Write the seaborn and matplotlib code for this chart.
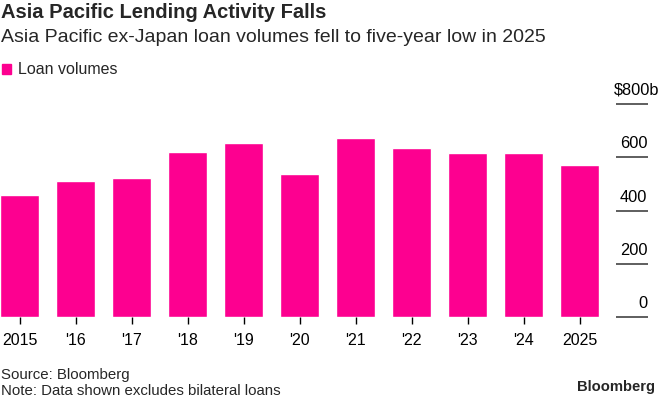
import matplotlib
matplotlib.use("Agg")
import matplotlib.pyplot as plt
import matplotlib.transforms as mtransforms
from matplotlib.patches import Patch
import pandas as pd
import seaborn as sns

# data
years = ["2015", "'16", "'17", "'18", "'19", "'20", "'21", "'22", "'23", "'24", "2025"]
loan_volumes = [458, 511, 521, 619, 652, 537, 673, 635, 618, 616, 571]
y_ticks = [0, 200, 400, 600, 800]
y_tick_labels = ["0", "200", "400", "600", "$800b"]

MAGENTA = "#fd0090"
W, H = 660, 401

sns.set_theme(style="white")
plt.rcParams["font.family"] = ["Liberation Sans", "DejaVu Sans"]

df = pd.DataFrame({"year": years, "volume": loan_volumes})

fig = plt.figure(figsize=(W / 100, H / 100), dpi=100)
# axes placed in pixel terms: bars span x 0..599, baseline at y=317, 800 at y=104
ax = fig.add_axes([0, 1 - 317.3 / H, 599.2 / W, (317.3 - 104) / H])

sns.barplot(data=df, x="year", y="volume", color=MAGENTA, saturation=1,
            width=0.7, ax=ax)
ax.set_xlim(-0.35, len(years) - 0.65)
ax.set_ylim(0, 800)
ax.set_xlabel("")
ax.set_ylabel("")
for s in ax.spines.values():
    s.set_visible(False)
ax.set_yticks([])
ax.tick_params(axis="x", bottom=True, length=5, width=1, color="black",
               labelsize=11.5, pad=6, labelcolor="black")

# right-hand value scale: short rules with labels sitting above them
trans = mtransforms.blended_transform_factory(fig.transFigure, ax.transData)
ax.hlines(y_ticks, 615.5 / W, 647.5 / W, transform=trans, colors="#333333",
          lw=1.1, clip_on=False)
px = 800 / 213.3  # data units per pixel
for v, lab in zip(y_ticks, y_tick_labels):
    xr = 659 / W if lab.startswith("$") else 647.5 / W
    ax.text(xr, v + 9 * px, lab, transform=trans, ha="right",
            va="baseline", fontsize=11.8, color="black", clip_on=False)

fig.text(1 / W, 1 - 13 / H, "Asia Pacific Lending Activity Falls",
         fontsize=14.5, fontweight="bold", va="center", ha="left")
fig.text(1 / W, 1 - 38 / H,
         "Asia Pacific ex-Japan loan volumes fell to five-year low in 2025",
         fontsize=14, va="center", ha="left")

fig.legend(handles=[Patch(color=MAGENTA, label="Loan volumes")],
           loc="center left", bbox_to_anchor=(0.003, 1 - 70 / H),
           frameon=False, fontsize=11.5, handlelength=0.55, handleheight=0.55,
           handletextpad=0.45, borderpad=0, borderaxespad=0)

fig.text(1 / W, 1 - 375 / H, "Source: Bloomberg", fontsize=10.8,
         va="center", ha="left")
fig.text(1 / W, 1 - 391 / H, "Note: Data shown excludes bilateral loans",
         fontsize=10.8, va="center", ha="left")
fig.text(655 / W, 1 - 387 / H, "Bloomberg", fontsize=10.6,
         fontweight="bold", va="center", ha="right")

fig.savefig("out.png", dpi=100)
